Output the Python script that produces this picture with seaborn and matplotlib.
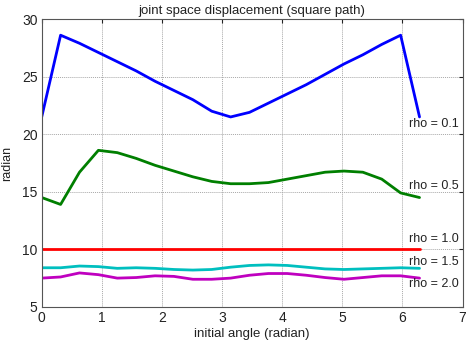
import numpy as np
import pandas as pd
import matplotlib
matplotlib.use("Agg")
import matplotlib.pyplot as plt
import seaborn as sns

angle = [k * np.pi / 10 for k in range(21)]
rho_01 = [21.5, 28.6, 27.9, 27.1, 26.3, 25.5, 24.6, 23.8, 23.0, 22.0, 21.5,
          21.9, 22.7, 23.5, 24.3, 25.2, 26.1, 26.9, 27.8, 28.6, 21.5]
rho_05 = [14.5, 13.9, 16.7, 18.6, 18.4, 17.9, 17.3, 16.8, 16.3, 15.9, 15.7,
          15.7, 15.8, 16.1, 16.4, 16.7, 16.8, 16.7, 16.1, 14.9, 14.5]
rho_10 = [10.0] * 21
rho_15 = [8.4, 8.4, 8.55, 8.5, 8.35, 8.4, 8.35, 8.25, 8.2, 8.25, 8.45,
          8.6, 8.65, 8.6, 8.45, 8.3, 8.25, 8.3, 8.35, 8.4, 8.35]
rho_20 = [7.5, 7.6, 7.95, 7.8, 7.5, 7.55, 7.7, 7.65, 7.4, 7.4, 7.5,
          7.75, 7.9, 7.9, 7.75, 7.55, 7.4, 7.55, 7.7, 7.7, 7.5]
series_names = ["rho = 0.1", "rho = 0.5", "rho = 1.0", "rho = 1.5", "rho = 2.0"]
label_y = [20.9, 15.5, 10.9, 8.9, 6.95]
x_ticks = [0, 1, 2, 3, 4, 5, 6, 7]
y_ticks = [5, 10, 15, 20, 25, 30]

colors = ["#0000ff", "#007f00", "#ff0000", "#00bfbf", "#bf00bf"]

df = pd.concat([
    pd.DataFrame({"angle": angle, "value": v, "series": n})
    for v, n in zip([rho_01, rho_05, rho_10, rho_15, rho_20], series_names)
])

sns.set_style("white")
plt.rcParams["font.family"] = ["Liberation Sans", "DejaVu Sans"]

fig = plt.figure(figsize=(4.74, 3.41), dpi=100)
ax = fig.add_axes([0.088, 0.100, 0.888, 0.844])

sns.lineplot(data=df, x="angle", y="value", hue="series", palette=colors,
             linewidth=2, legend=False, ax=ax, sort=False)

ax.set_xlim(0, 7)
ax.set_ylim(5, 30)
ax.set_xticks(x_ticks)
ax.set_yticks(y_ticks)
ax.grid(True, color="#a8a8a8", linestyle=(0, (1, 1)), linewidth=0.7)
ax.tick_params(direction="in", length=3, labelsize=10, top=True, right=True,
               pad=3, colors="#222222")
for s in ax.spines.values():
    s.set_color("#555555")
    s.set_linewidth(0.8)

for name, yy in zip(series_names, label_y):
    ax.text(6.1, yy, name, fontsize=9, va="center", ha="left", color="#222222")

ax.set_title("joint space displacement (square path)", fontsize=9.5, pad=4,
             color="#222222")
ax.set_xlabel("initial angle (radian)", fontsize=9.5, labelpad=2, color="#222222")
ax.set_ylabel("radian", fontsize=9, labelpad=6, color="#222222")

fig.savefig("out.png", dpi=100)
